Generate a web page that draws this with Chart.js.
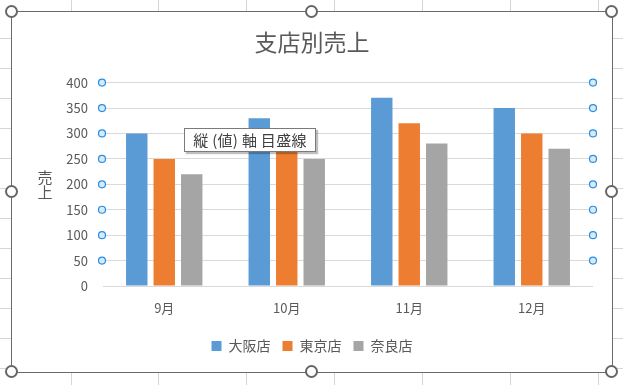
<!DOCTYPE html>
<html>
<head>
<meta charset="utf-8">
<script src="https://cdn.jsdelivr.net/npm/chart.js@4.4.0/dist/chart.umd.js"></script>
<style>
  html, body { margin: 0; padding: 0; background: #fff; }
  body { width: 623px; height: 385px; position: relative; overflow: hidden; }
  .hline { position: absolute; left: 0; width: 623px; height: 1px; background: #d6d6d6; }
  .vline { position: absolute; top: 0; width: 1px; height: 385px; background: #d6d6d6; }
  #frame { position: absolute; left: 11px; top: 11px; width: 600px; height: 360px;
           border: 1px solid #6a6a6a; background: #fff; }
  #frame canvas { position: absolute; left: 0; top: 0; }
  .handle { position: absolute; width: 9px; height: 9px; border: 2.5px solid #666;
            border-radius: 50%; background: #fff; z-index: 3; }
  #tip { position: absolute; left: 184px; top: 128px; width: 130px; height: 22px;
         border: 1px solid #7a7a7a; background: #fff; z-index: 4;
         box-shadow: 2px 2px 1px rgba(0,0,0,0.25);
         font: 15px 'Noto Sans CJK JP', sans-serif; color: #404040; letter-spacing: 0.3px;
         line-height: 22px; text-align: center; white-space: nowrap; }
</style>
</head>
<body>
<div id="frame"><canvas id="chart" width="600" height="360"></canvas></div>
<div id="tip">縦 (値) 軸 目盛線</div>
<script>
const months = ['9月', '10月', '11月', '12月'];
const osaka = [300, 330, 370, 350];
const tokyo = [250, 300, 320, 300];
const nara = [220, 250, 280, 270];
const seriesNames = ['大阪店', '東京店', '奈良店'];

// spreadsheet cell lines behind the chart
for (let y = 38; y < 385; y += 30) {
    const d = document.createElement('div');
    d.className = 'hline';
    d.style.top = y + 'px';
    document.body.insertBefore(d, document.body.firstChild);
}
[71, 158, 246, 334, 422, 510, 598].forEach(x => {
    const d = document.createElement('div');
    d.className = 'vline';
    d.style.left = x + 'px';
    document.body.insertBefore(d, document.body.firstChild);
});

// selection handles on the chart frame
[[12, 12], [312, 12], [612, 12], [12, 192], [612, 192], [12, 372], [312, 372], [612, 372]].forEach(([x, y]) => {
    const h = document.createElement('div');
    h.className = 'handle';
    h.style.left = (x - 7) + 'px';
    h.style.top = (y - 7) + 'px';
    document.body.appendChild(h);
});

Chart.defaults.font.family = "'Noto Sans CJK JP', sans-serif";
Chart.defaults.color = '#595959';

// vertical axis title + selected-gridline markers
const excelBits = {
    id: 'excelBits',
    afterDraw(chart) {
        const ctx = chart.ctx;
        const area = chart.chartArea;
        const y = chart.scales.y;
        ctx.save();
        ctx.fillStyle = '#595959';
        ctx.font = "15px 'Noto Sans CJK JP', sans-serif";
        ctx.textAlign = 'center';
        ctx.textBaseline = 'middle';
        const mid = (area.top + area.bottom) / 2;
        ctx.fillText('売', 33, mid - 7);
        ctx.fillText('上', 33, mid + 8);

        ctx.lineWidth = 1.2;
        ctx.strokeStyle = '#2b8de0';
        ctx.fillStyle = '#d4ebfb';
        y.ticks.forEach(t => {
            if (t.value === 0) return;
            const py = y.getPixelForValue(t.value);
            [area.left - 1, area.right].forEach(px => {
                ctx.beginPath();
                ctx.arc(px, py, 3.5, 0, Math.PI * 2);
                ctx.fill();
                ctx.stroke();
            });
        });
        ctx.restore();
    }
};

new Chart(document.getElementById('chart'), {
    type: 'bar',
    data: {
        labels: months,
        datasets: [
            { label: seriesNames[0], data: osaka, backgroundColor: '#5b9bd5' },
            { label: seriesNames[1], data: tokyo, backgroundColor: '#ed7d31' },
            { label: seriesNames[2], data: nara, backgroundColor: '#a5a5a5' }
        ]
    },
    options: {
        responsive: false,
        animation: false,
        categoryPercentage: 0.673,
        barPercentage: 0.78,
        layout: { padding: { left: 0, right: 0, top: 0, bottom: 9 } },
        plugins: {
            title: {
                display: true,
                text: '支店別売上',
                color: '#595959',
                font: { size: 23, weight: 'normal' },
                padding: { top: 16, bottom: 27 }
            },
            legend: {
                position: 'bottom',
                labels: {
                    boxWidth: 10,
                    boxHeight: 10,
                    padding: 12,
                    color: '#595959',
                    font: { size: 14 }
                }
            },
            tooltip: { enabled: false }
        },
        scales: {
            x: {
                grid: { display: false },
                border: { display: false },
                ticks: { color: '#595959', font: { size: 13 }, padding: 6 },
                afterFit(scale) { scale.height = 41; }
            },
            y: {
                min: 0,
                max: 400,
                ticks: { stepSize: 50, color: '#595959', font: { size: 13 }, padding: 15 },
                grid: { color: '#d9d9d9', drawTicks: false },
                border: { display: false },
                afterFit(scale) { scale.width = 91; }
            },
            // empty right-hand axis, only to keep space right of the plot
            yRight: {
                position: 'right',
                grid: { display: false },
                border: { display: false },
                ticks: { display: false },
                afterFit(scale) { scale.width = 19; }
            }
        }
    },
    plugins: [excelBits]
});
</script>
</body>
</html>
